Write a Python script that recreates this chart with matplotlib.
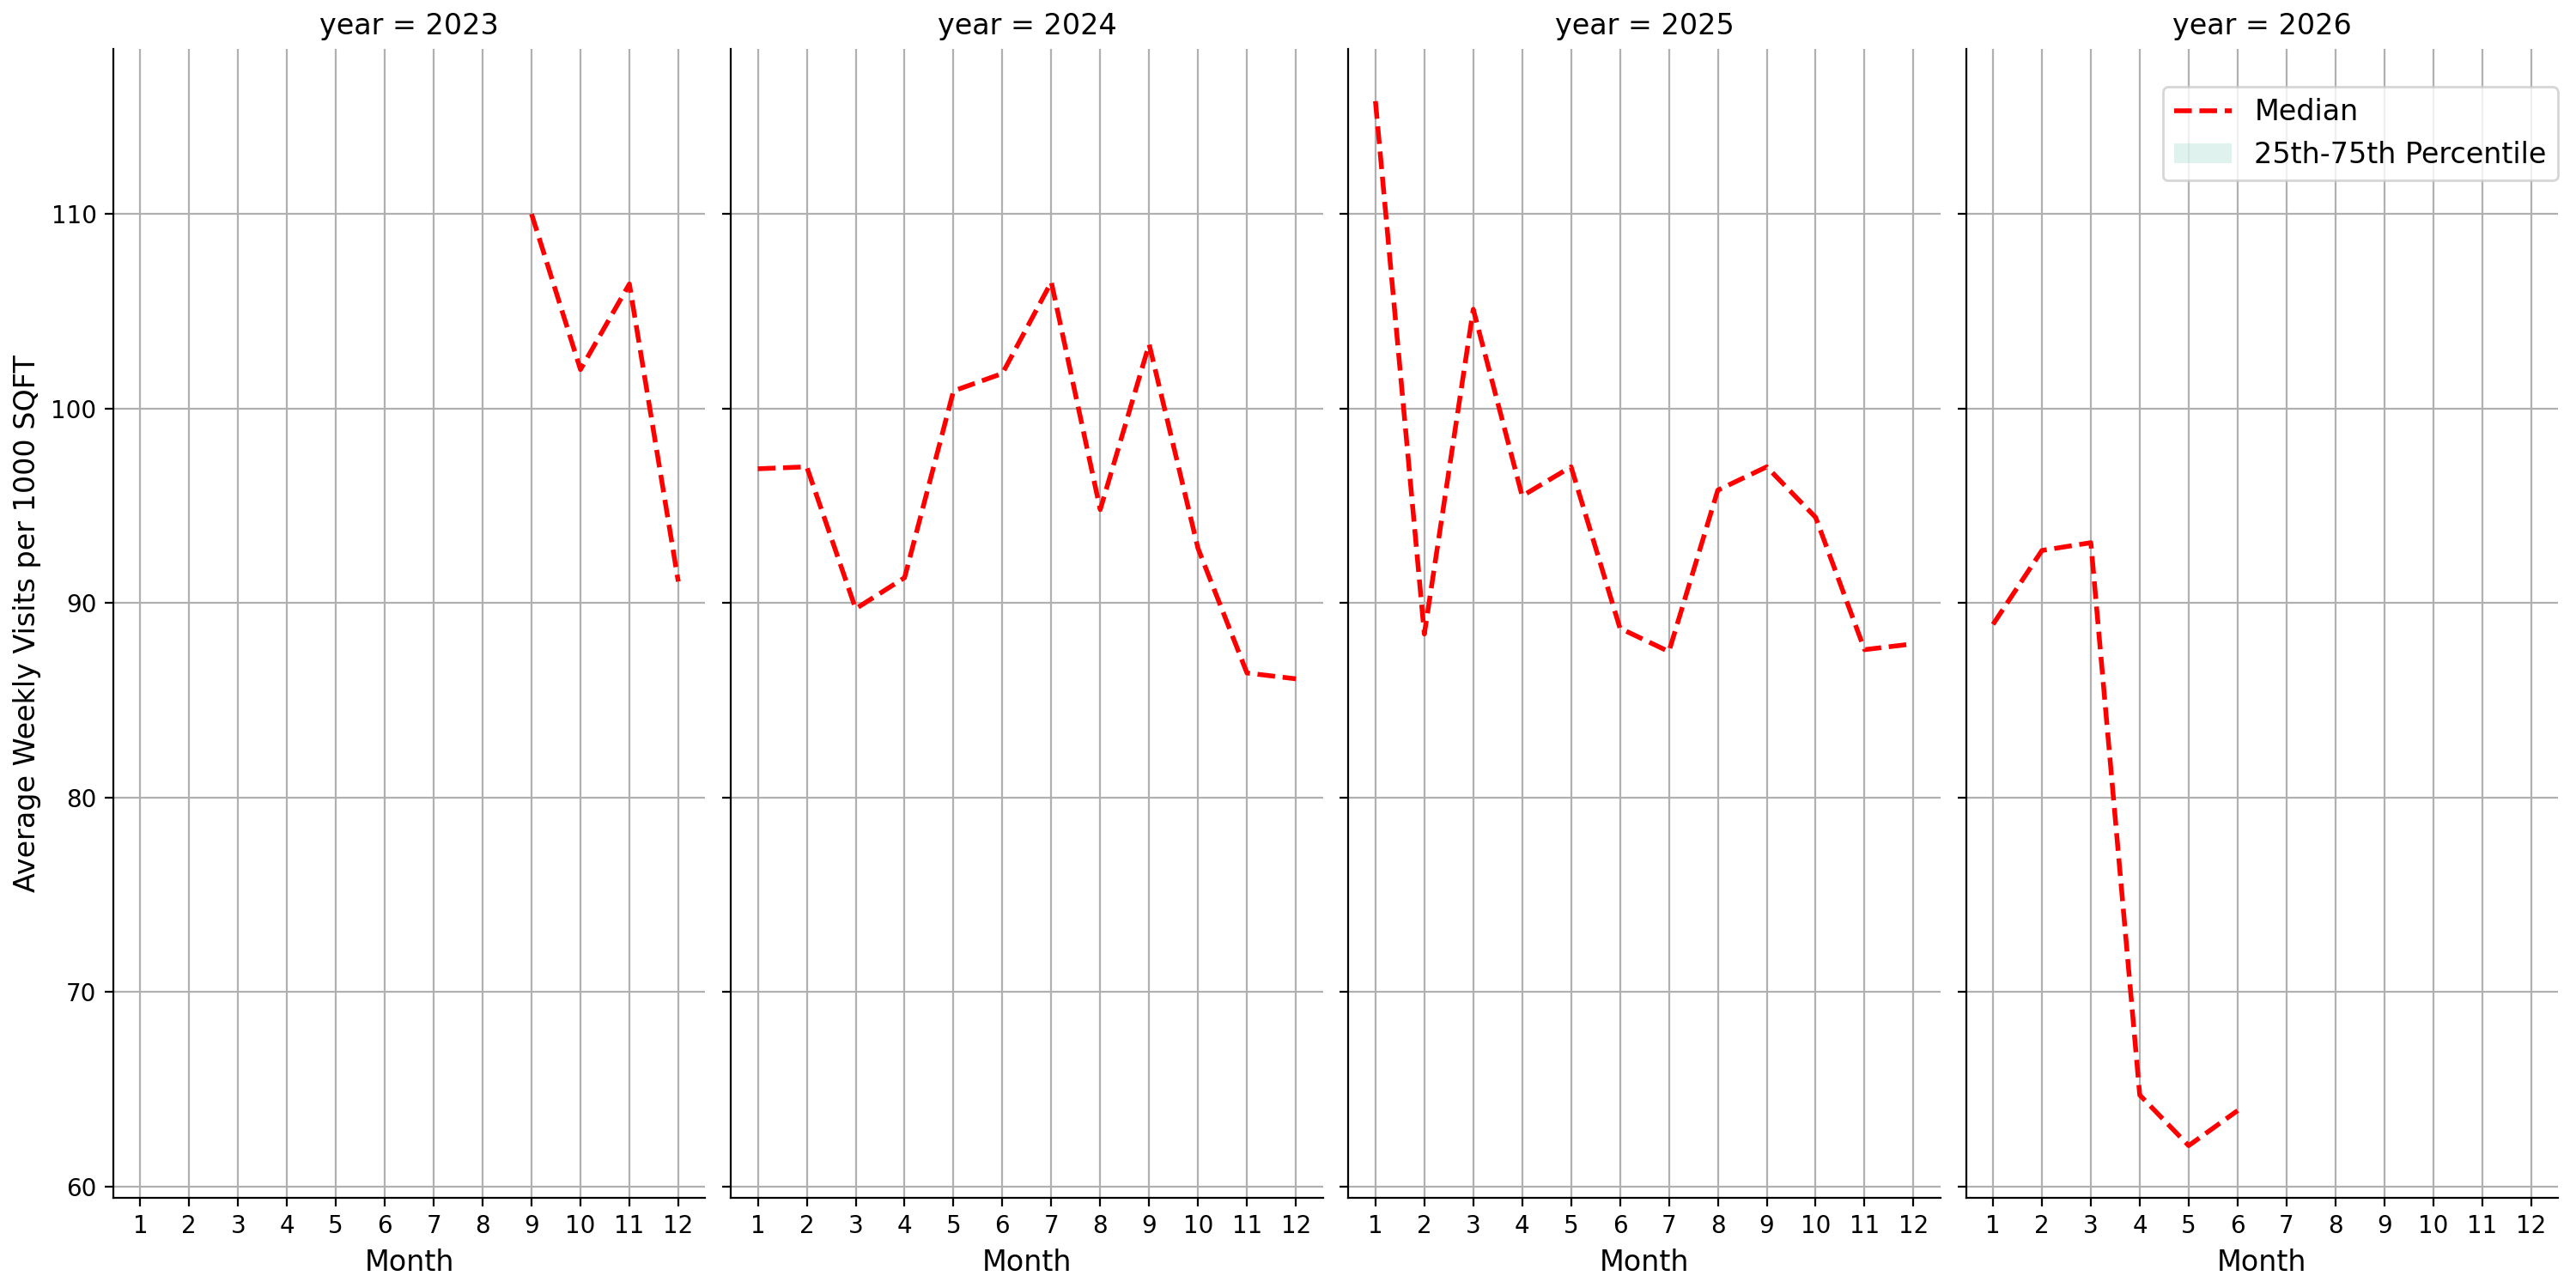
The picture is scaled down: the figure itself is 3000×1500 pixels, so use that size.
import numpy as np
import matplotlib.pyplot as plt
from matplotlib.patches import Patch

# Median weekly visits per 1000 sqft, by month, for each year
years = [2023, 2024, 2025, 2026]
months_2023 = [9, 10, 11, 12]
median_2023 = [110.0, 102.0, 106.4, 91.1]
months_2024 = list(range(1, 13))
median_2024 = [96.9, 97.0, 89.7, 91.3, 100.9, 101.8, 106.5, 94.8, 103.3, 92.8, 86.4, 86.1]
months_2025 = list(range(1, 13))
median_2025 = [115.8, 88.4, 105.1, 95.5, 97.0, 88.7, 87.5, 95.8, 97.0, 94.4, 87.6, 87.9]
months_2026 = [1, 2, 3, 4, 5, 6]
median_2026 = [88.9, 92.7, 93.1, 64.7, 62.1, 63.9]

series = {
    2023: (months_2023, median_2023),
    2024: (months_2024, median_2024),
    2025: (months_2025, median_2025),
    2026: (months_2026, median_2026),
}

fig, axes = plt.subplots(1, 4, figsize=(15, 7.5), dpi=200, sharex=True, sharey=True)
fig.subplots_adjust(left=0.044, right=0.993, top=0.962, bottom=0.07, wspace=0.0435)

for ax, yr in zip(axes, years):
    m, med = series[yr]
    ax.plot(m, med, color='red', linestyle='--', linewidth=2, label='Median')
    ax.set_title(f"year = {yr}", fontsize=12)
    ax.set_xlabel("Month", fontsize=12)
    ax.set_xticks(range(1, 13))
    ax.grid(True, color='#b0b0b0', linewidth=0.8)
    ax.set_axisbelow(True)
    ax.tick_params(labelsize=10)
    ax.spines['top'].set_visible(False)
    ax.spines['right'].set_visible(False)

axes[0].set_ylabel("Average Weekly Visits per 1000 SQFT", fontsize=12)
axes[0].set_yticks([60, 70, 80, 90, 100, 110])
axes[0].set_xlim(0.45, 12.55)

handles = [axes[-1].get_lines()[0],
           Patch(facecolor='#66c2a5', alpha=0.2, edgecolor='none', label='25th-75th Percentile')]
axes[-1].legend(handles=handles, loc='upper right', bbox_to_anchor=(1.0, 0.967),
                borderaxespad=0, fontsize=12)

plt.savefig('out.png')
